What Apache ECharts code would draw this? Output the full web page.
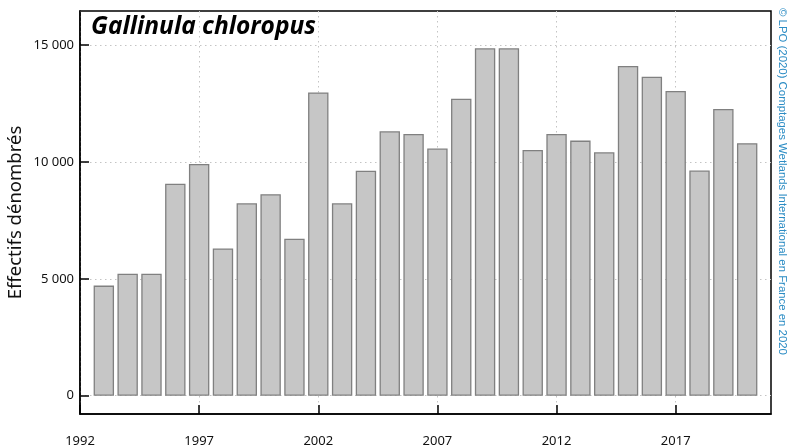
<!DOCTYPE html>
<html>
<head>
<meta charset="utf-8">
<script src="https://cdn.jsdelivr.net/npm/echarts@6/dist/echarts.min.js"></script>
<style>
  html, body { margin: 0; padding: 0; background: #fff; }
  #chart { width: 791px; height: 447px; }
</style>
</head>
<body>
<div id="chart"></div>
<script>
// Annual counts of Common Moorhen (Gallinula chloropus), mid-January wetland counts
const years = [1993, 1994, 1995, 1996, 1997, 1998, 1999, 2000, 2001, 2002,
               2003, 2004, 2005, 2006, 2007, 2008, 2009, 2010, 2011, 2012,
               2013, 2014, 2015, 2016, 2017, 2018, 2019, 2020];
const counts = [4710, 5220, 5220, 9070, 9910, 6300, 8230, 8620, 6710, 12970,
                8230, 9620, 11310, 11190, 10570, 12700, 14860, 14860, 10510, 11190,
                10910, 10410, 14100, 13640, 13030, 9630, 12260, 10800];
const yearTicks = [1992, 1997, 2002, 2007, 2012, 2017];
const countTicks = [0, 5000, 10000, 15000];

const speciesName = 'Gallinula chloropus';
const yAxisTitle = 'Effectifs dénombrés';
const creditText = '© LPO (2020) Comptages Wetlands International en France en 2020';

function formatThousands(v) {
  return String(v).replace(/\B(?=(\d{3})+(?!\d))/g, ' ');
}

const chart = echarts.init(document.getElementById('chart'), null, { renderer: 'canvas' });

const gridLine = { show: true, lineStyle: { color: '#c4c4c4', type: [1.5, 3.5], width: 1 } };

chart.setOption({
  animation: false,
  backgroundColor: '#ffffff',
  title: {
    text: speciesName,
    left: 86,
    top: 10,
    textStyle: {
      fontFamily: 'Open Sans',
      fontStyle: 'italic',
      fontWeight: 'bold',
      fontSize: 24.5,
      color: '#000'
    }
  },
  grid: {
    left: 80, right: 20, top: 11, bottom: 33,
    outerBoundsMode: 'none',
    containLabel: false,
    show: true,
    borderColor: '#000',
    borderWidth: 1.5,
    backgroundColor: 'transparent'
  },
  xAxis: {
    type: 'value',
    min: 1992,
    max: 2021,
    axisLine: { show: true, onZero: false, lineStyle: { color: '#000', width: 1.5 } },
    axisTick: {
      show: true, inside: true, length: 9,
      customValues: yearTicks,
      lineStyle: { color: '#000', width: 1.5 }
    },
    axisLabel: {
      customValues: yearTicks,
      margin: 21,
      fontFamily: 'Noto Sans',
      fontSize: 13,
      color: '#111',
      formatter: v => String(v)
    },
    splitLine: gridLine
  },
  yAxis: {
    type: 'value',
    min: -782,
    max: 16453,
    name: yAxisTitle,
    nameLocation: 'middle',
    nameGap: 55,
    nameMoveOverlap: false,
    nameRotate: 90,
    nameTextStyle: { fontFamily: 'Noto Sans', fontSize: 18.5, color: '#111' },
    axisLine: { show: true, onZero: false, lineStyle: { color: '#000', width: 1.5 } },
    axisTick: {
      show: true, inside: true, length: 9,
      customValues: countTicks,
      lineStyle: { color: '#000', width: 1.5 }
    },
    axisLabel: {
      customValues: countTicks,
      margin: 6,
      fontFamily: 'Noto Sans',
      fontSize: 13,
      color: '#111',
      formatter: v => formatThousands(v)
    },
    splitLine: gridLine
  },
  series: [{
    type: 'bar',
    data: years.map((y, i) => [y, counts[i]]),
    barWidth: 20.4,
    itemStyle: { color: '#c6c6c6', borderColor: '#808080', borderWidth: 1.3 },
    silent: true
  }],
  graphic: [{
    type: 'text',
    left: 777,
    top: 8,
    rotation: -Math.PI / 2,
    style: {
      text: creditText,
      fontFamily: 'Liberation Sans',
      fontSize: 11.4,
      fill: '#2b8cc4'
    }
  }]
});
</script>
</body>
</html>
